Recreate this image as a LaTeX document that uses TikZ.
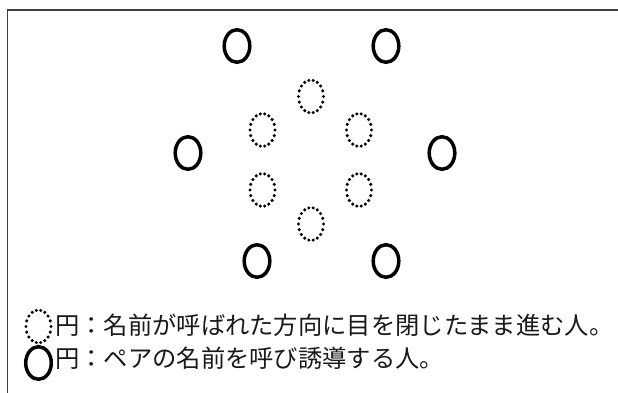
\documentclass[tikz,border=0pt]{standalone}
\usepackage{fontspec}
\newfontfamily\cjk{Noto Sans CJK JP}
\usetikzlibrary{shapes.geometric}
\begin{document}
\begin{tikzpicture}[x=1pt,y=-1pt,
  solidp/.style={ellipse,draw=black,line width=3.5pt,minimum width=25.6pt,minimum height=32.6pt,inner sep=0pt,outer sep=0pt},
  dotp/.style={ellipse,draw=none,minimum width=25pt,minimum height=32.6pt,inner sep=0pt,outer sep=0pt},
  legend/.style={anchor=west,inner sep=0pt,font=\cjk\fontsize{24.3pt}{28pt}\selectfont,text=black!90}]
\useasboundingbox (0,0) rectangle (618,392);
\fill[white] (0,0) rectangle (618,392);
% frame
\coordinate (fb) at (7.3,400);
\coordinate (fc) at (7.3,10);
\coordinate (fr) at (625,10);
\draw[line width=1.4pt,black!75] (fb) -- (fc) -- (fr);
% leaders (solid)
\node[solidp] (s1) at (237,46) {};
\node[solidp] (s2) at (386,46) {};
\node[solidp] (s3) at (188,153) {};
\node[solidp] (s4) at (442,153) {};
\node[solidp] (s5) at (257,261) {};
\node[solidp] (s6) at (386,261) {};
% walkers (dotted)
\node[dotp] (d1) at (311,96.5) {};
\node[dotp] (d2) at (262.5,130) {};
\node[dotp] (d3) at (359,130) {};
\node[dotp] (d4) at (262.5,190) {};
\node[dotp] (d5) at (359,190) {};
\node[dotp] (d6) at (311,224) {};
% legend
\node[dotp] (ld) at (38.5,326.5) {};
\node[solidp] (ls) at (38.5,363) {};
\foreach \n in {d1,d2,d3,d4,d5,d6,ld}{
  \foreach \a in {0,20,...,340}{
    \fill[black] (\n.center) ++(\a:12.5 and 16.3) circle (1.7pt);
  }
}
\node[legend] (t1) at (55,325.5) {円：名前が呼ばれた方向に目を閉じたまま進む人。};
\node[legend] (t2) at (55,358.5) {円：ペアの名前を呼び誘導する人。};
\end{tikzpicture}
\end{document}
